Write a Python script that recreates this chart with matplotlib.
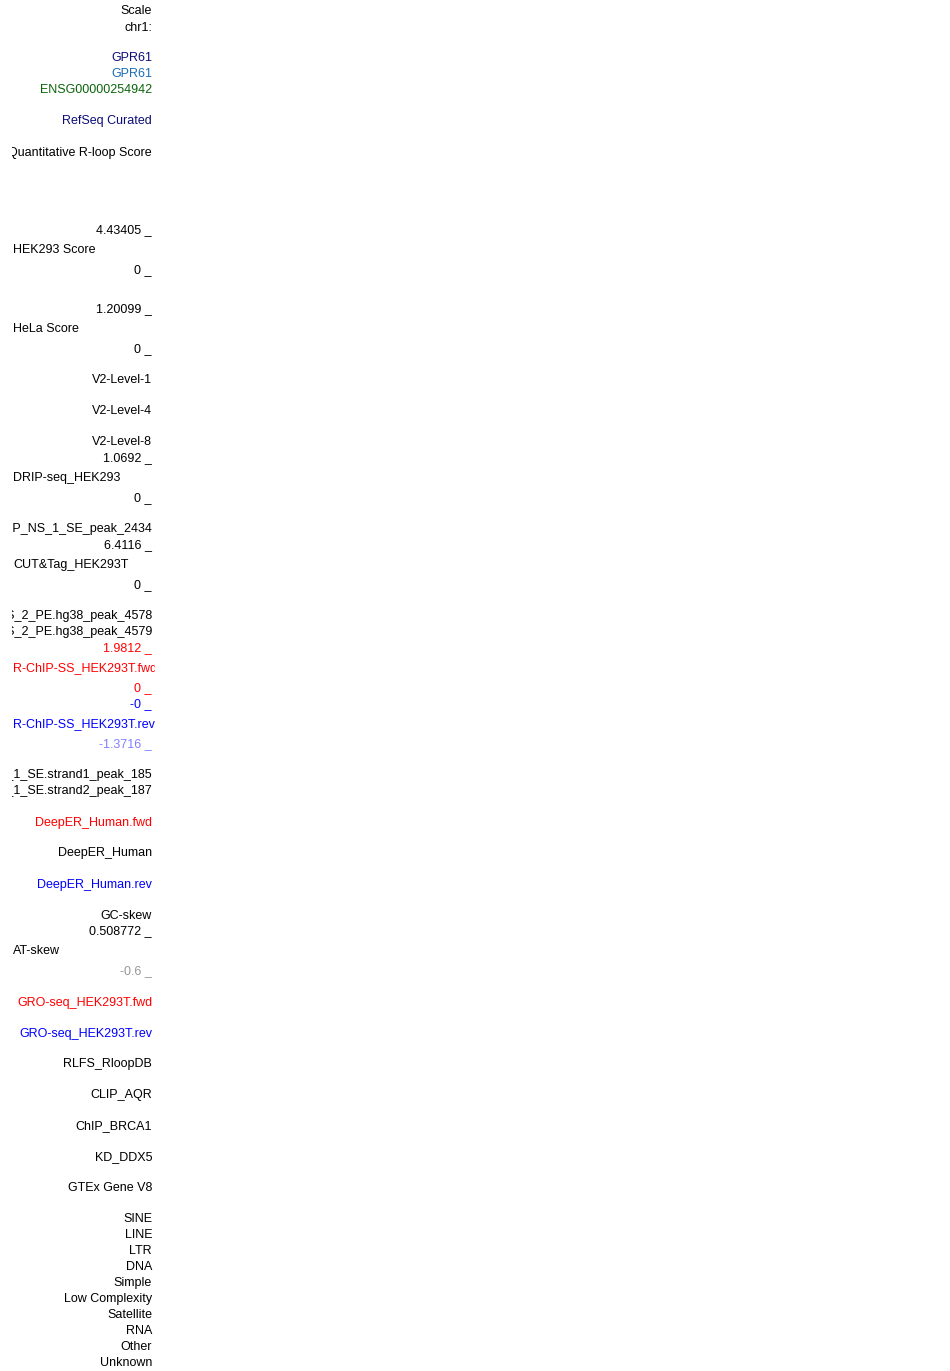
import matplotlib
matplotlib.use("Agg")
import matplotlib.pyplot as plt
from matplotlib.patches import Rectangle

# ---- data: track labels (text), their rows and colours ----
labels = [
    "Scale", "chr1:", "GPR61", "GPR61", "ENSG00000254942", "RefSeq Curated",
    "Quantitative R-loop Score",
    "4.43405 _", "HEK293 Score", "0 _",
    "1.20099 _", "HeLa Score", "0 _",
    "V2-Level-1", "V2-Level-4", "V2-Level-8",
    "1.0692 _", "DRIP-seq_HEK293", "0 _",
    "DRIP_NS_1_SE_peak_2434",
    "6.4116 _", "CUT&Tag_HEK293T", "0 _",
    "R-ChIP_SS_2_PE.hg38_peak_4578", "R-ChIP_SS_2_PE.hg38_peak_4579",
    "1.9812 _", "R-ChIP-SS_HEK293T.fwd", "0 _",
    "-0 _", "R-ChIP-SS_HEK293T.rev", "-1.3716 _",
    "DRIPc_NS_1_SE.strand1_peak_185", "DRIPc_NS_1_SE.strand2_peak_187",
    "DeepER_Human.fwd", "DeepER_Human", "DeepER_Human.rev",
    "GC-skew", "0.508772 _", "AT-skew", "-0.6 _",
    "GRO-seq_HEK293T.fwd", "GRO-seq_HEK293T.rev",
    "RLFS_RloopDB", "CLIP_AQR", "ChIP_BRCA1", "KD_DDX5", "GTEx Gene V8",
    "SINE", "LINE", "LTR", "DNA", "Simple", "Low Complexity",
    "Satellite", "RNA", "Other", "Unknown",
]

# ---- layout (pixel rows of the label centres) ----
rows = [
    10, 27, 57, 73, 89, 120,
    152,
    229, 249, 269,
    308, 328, 348,
    379, 410, 441,
    457, 477, 497,
    528,
    544, 564, 584,
    615, 631,
    647, 667, 687,
    703, 723, 743,
    774, 790,
    822, 852, 884,
    915, 930, 950, 970,
    1002, 1033,
    1063, 1094, 1125, 1156, 1187,
    1218, 1234, 1250, 1266, 1282, 1298,
    1314, 1330, 1346, 1362,
]

left_aligned = {"HEK293 Score", "HeLa Score", "DRIP-seq_HEK293", "CUT&Tag_HEK293T",
                "R-ChIP-SS_HEK293T.fwd", "R-ChIP-SS_HEK293T.rev", "AT-skew"}

NAVY = "#0c0c78"
STEEL = "#196eb4"
GREEN = "#0a640a"
RED = "#ff0000"
BLUE = "#0000ff"
LIGHTBLUE = "#8080ff"
GRAY = "#969696"

colors = ["black"] * len(labels)
colors[2] = NAVY
colors[3] = STEEL
colors[4] = GREEN
colors[5] = NAVY
for i, s in enumerate(labels):
    if s in ("1.9812 _", "R-ChIP-SS_HEK293T.fwd", "DeepER_Human.fwd", "GRO-seq_HEK293T.fwd"):
        colors[i] = RED
    if s in ("-0 _", "R-ChIP-SS_HEK293T.rev", "DeepER_Human.rev", "GRO-seq_HEK293T.rev"):
        colors[i] = BLUE
colors[labels.index("0 _", 26)] = RED
colors[labels.index("-1.3716 _")] = LIGHTBLUE
colors[labels.index("-0.6 _")] = GRAY

W, H = 950, 1371
fig = plt.figure(figsize=(W / 100, H / 100), dpi=100)
fig.patch.set_facecolor("white")
ax = fig.add_axes([0, 0, 1, 1])
ax.set_xlim(0, W)
ax.set_ylim(H, 0)
ax.axis("off")

# the browser's label column clips long names at its edges
clip = Rectangle((12, 0), 142.5, H, transform=ax.transData, facecolor="none", edgecolor="none")
ax.add_patch(clip)

for s, y, c in zip(labels, rows, colors):
    if s in left_aligned:
        x, ha = 13, "left"
    else:
        x, ha = 152, "right"
    t = ax.text(x, y + 4.3, s, ha=ha, va="baseline", color=c,
                fontsize=9, family="Liberation Sans", clip_on=True)
    t.set_clip_path(clip)

fig.savefig("out.png", dpi=100, facecolor="white")
